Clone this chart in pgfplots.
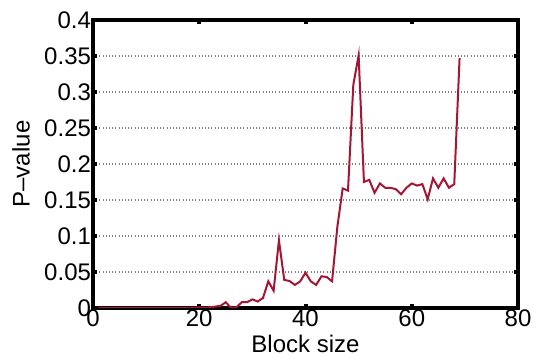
\documentclass[border=0pt]{standalone}
\usepackage{pgfplots}
\pgfplotsset{compat=1.18}
\usepackage{fontspec}
\setmainfont{Liberation Sans}
\usetikzlibrary{calc}
\definecolor{crim}{RGB}{163,22,52}
\pgfplotstableread{
x y
1 0
2 0
3 0
4 0
5 0
6 0
7 0
8 0
9 0
10 0
11 0
12 0
13 0
14 0
15 0
16 0
17 0
18 0
19 0
20 0.001
21 0
22 0.001
23 0.002
24 0.003
25 0.008
26 0.0
27 0.001
28 0.008
29 0.008
30 0.012
31 0.009
32 0.014
33 0.037
34 0.024
35 0.094
36 0.039
37 0.0375
38 0.032
39 0.037
40 0.049
41 0.037
42 0.032
43 0.044
44 0.043
45 0.037
46 0.113
47 0.166
48 0.163
49 0.31
50 0.351
51 0.175
52 0.178
53 0.160
54 0.173
55 0.167
56 0.167
57 0.165
58 0.158
59 0.167
60 0.173
61 0.170
62 0.172
63 0.151
64 0.180
65 0.167
66 0.180
67 0.167
68 0.172
69 0.347
}\datatable
\begin{document}
\begin{tikzpicture}
\begin{axis}[
  scale only axis,
  width=318.75pt, height=216pt,
  xmin=0, xmax=80, ymin=0, ymax=0.4,
  xtick={0,20,40,60,80},
  ytick={0,0.05,0.1,0.15,0.2,0.25,0.3,0.35,0.4},
  yticklabel style={/pgf/number format/fixed, /pgf/number format/precision=2},
  /pgf/number format/assume math mode=true,
  tick label style={font=\fontsize{18}{19}\selectfont},
  label style={font=\fontsize{18}{19}\selectfont},
  xlabel={Block size},
  ylabel={P--value},
  xlabel style={yshift=1pt},
  ylabel style={yshift=4pt},
  axis line style={line width=3.5pt},
  every tick/.style={black, line width=3pt},
  major tick length=3pt,
  tick align=inside,
  ymajorgrids,
  grid style={dotted, gray, line width=0.8pt},
  xticklabel style={yshift=2pt},
  yticklabel style={xshift=2pt},
]
\addplot[crim, line width=1.5pt] table[x=x,y=y] {\datatable};
\end{axis}
\pgfresetboundingbox
\path ($(current axis.south west)+(-69.75pt,-37.5pt)$) rectangle ($(current axis.north east)+(12pt,15pt)$);
\end{tikzpicture}
\end{document}
